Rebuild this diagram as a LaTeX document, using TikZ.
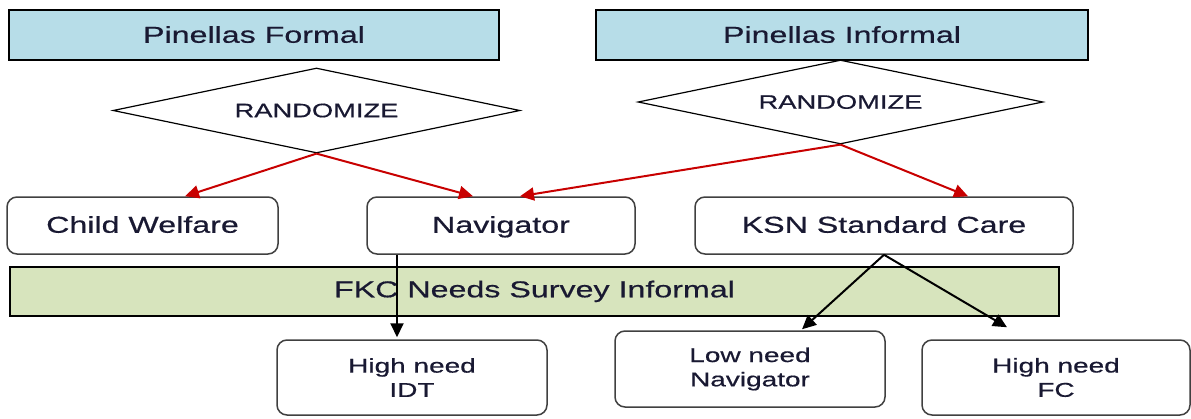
\documentclass[tikz,border=0pt]{standalone}
\usepackage{fontspec}
\setmainfont{Liberation Sans}[FakeStretch=1.4,FakeBold=0.5]
\usetikzlibrary{shapes.geometric,arrows.meta}
\definecolor{headfill}{HTML}{B7DDE8}
\definecolor{surveyfill}{HTML}{D7E4BD}
\definecolor{randred}{HTML}{C80000}
\definecolor{inkc}{RGB}{25,25,50}
\begin{document}
\begin{tikzpicture}[x=1pt,y=-1pt,
  header/.style={draw=black, line width=1.8pt, fill=headfill, inner sep=0pt,
    minimum height=50pt, text height=16.5pt, text depth=1pt,
    text=inkc, font=\fontsize{23}{27}\selectfont},
  chooser/.style={diamond, draw=black, line width=1.2pt, aspect=4.8, inner sep=0pt,
    text=inkc, font=\fontsize{19.5}{23}\selectfont},
  armbox/.style={draw=black!75, line width=1.5pt, rounded corners=10pt, fill=white,
    inner sep=0pt, minimum height=57pt, text height=16.5pt, text depth=2pt,
    text=inkc, font=\fontsize{23}{27}\selectfont},
  outbox/.style={draw=black!75, line width=1.5pt, rounded corners=10pt, fill=white,
    inner sep=0pt, align=center, text=inkc, font=\fontsize{20}{24.3}\selectfont},
  survey/.style={draw=black, line width=1.8pt, fill=surveyfill, inner sep=0pt,
    minimum height=49pt, text height=16.5pt, text depth=4.9pt,
    text=inkc, font=\fontsize{23}{27}\selectfont},
  redarrow/.style={draw=randred, line width=2pt, -{Triangle[length=14pt,width=13pt]}},
  blackarrow/.style={draw=black, line width=2pt, -{Triangle[length=14pt,width=13pt]}}]
\useasboundingbox (0,0) rectangle (1191,418);

% study arms at the top
\node[header, minimum width=490pt] (pf) at (254,35) {Pinellas Formal};
\node[header, minimum width=492pt] (pi) at (842,35) {Pinellas Informal};

% randomisation steps
\node[chooser, minimum width=407pt, minimum height=85pt] (d1) at (316.5,110.5) {RANDOMIZE};
\node[chooser, minimum width=405pt, minimum height=84pt] (d2) at (840.5,102) {RANDOMIZE};

% service conditions
\node[armbox, minimum width=271pt] (cw) at (142.5,225.5) {Child Welfare};
\node[armbox, minimum width=268pt] (nav) at (501,225.5) {Navigator};
\node[armbox, minimum width=378pt] (ksn) at (884,225.5) {KSN Standard Care};

% needs survey band
\node[survey, minimum width=1049pt] (fkc) at (534.5,291.5) {FKC Needs Survey Informal};

% outcome groups
\node[outbox, minimum width=270pt, minimum height=75pt] (idt) at (412,377.5) {High need\\IDT};
\node[outbox, minimum width=270pt, minimum height=76pt] (low) at (750,369) {Low need\\Navigator};
\node[outbox, minimum width=268pt, minimum height=75pt] (fc) at (1056,377.5) {High need\\FC};

% assignment arrows
\draw[redarrow] (d1.south) -- ([xshift=42.5pt]cw.north);
\draw[redarrow] (d1.south) -- ([xshift=-28pt]nav.north);
\draw[redarrow] (d2.south) -- ([xshift=19pt]nav.north);
\draw[redarrow] (d2.south) -- ([xshift=84pt]ksn.north);

% survey routing arrows
\draw[blackarrow] ([xshift=-104pt]nav.south) -- ([xshift=-15pt,yshift=2pt]idt.north);
\draw[blackarrow] (ksn.south) -- ([xshift=52pt,yshift=1pt]low.north);
\draw[blackarrow] (ksn.south) -- ([xshift=-49pt,yshift=12pt]fc.north);
\end{tikzpicture}
\end{document}
